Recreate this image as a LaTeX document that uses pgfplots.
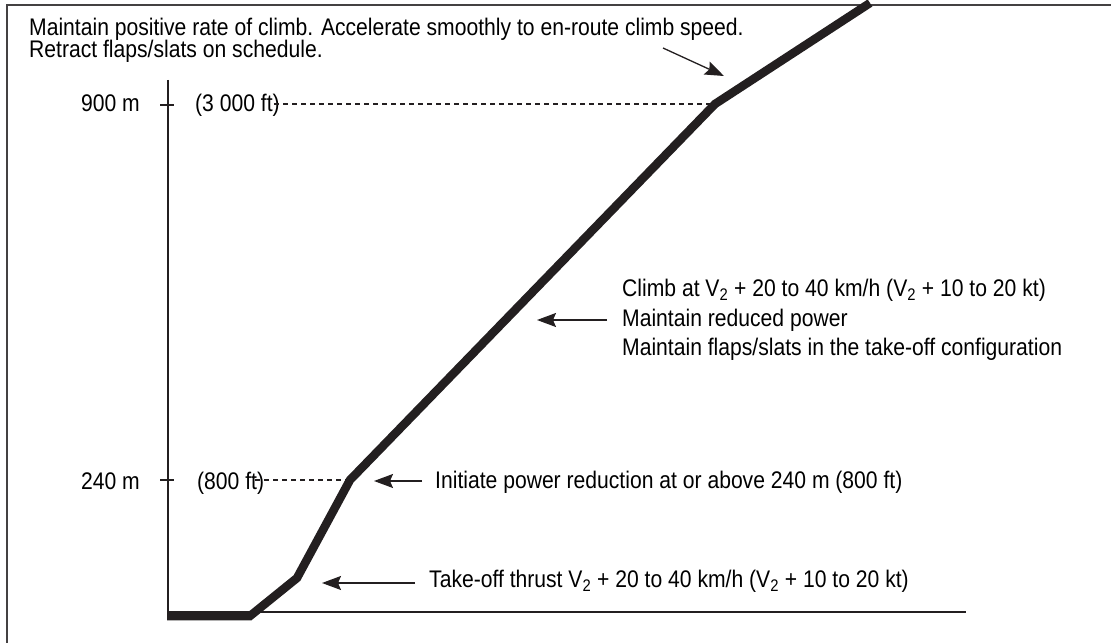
\documentclass[border=0pt]{standalone}
\usepackage{pgfplots}
\pgfplotsset{compat=1.18}
\usepackage{fontspec}
\setmainfont{Liberation Sans}[FakeStretch=0.88]
\usetikzlibrary{arrows.meta}
\definecolor{ink}{HTML}{231F20}
\begin{document}
\fontsize{24bp}{28bp}\selectfont
\begin{tikzpicture}
\begin{axis}[x=1bp,y=1bp,xmin=0,xmax=1111,ymin=0,ymax=643,
  hide axis, clip=false, at={(0,0)}, anchor=south west,
  every node/.style={font=\fontsize{24bp}{28bp}\selectfont, text=ink, inner sep=0pt}]
% frame (image is a crop)
\draw[line width=1.3bp, ink!85] (axis cs:7,0) -- (axis cs:7,638) -- (axis cs:1111,638);
% axes
\draw[line width=1.6bp, ink] (axis cs:168,563) -- (axis cs:168,31) -- (axis cs:966,31);
% ticks
\draw[line width=1.4bp, ink] (axis cs:160,538) -- (axis cs:174,538);
\draw[line width=1.4bp, ink] (axis cs:160,163) -- (axis cs:174,163);
% tick labels
\node[anchor=base east] at (axis cs:148,531) {900 m};
\node[anchor=base west] at (axis cs:187,531) {(3 000 ft)};
\node[anchor=base east] at (axis cs:148,153) {240 m};
\node[anchor=base west] at (axis cs:189,153) {(800 ft)};
% dashed guides
\draw[line width=1.2bp, ink, dash pattern=on 5bp off 4bp] (axis cs:274,539) -- (axis cs:712,539);
\draw[line width=1.2bp, ink, dash pattern=on 5bp off 4bp] (axis cs:255,163) -- (axis cs:348,163);
% flight path
\addplot[ink, line width=8.5bp, line join=miter, line cap=butt] coordinates {
 (167,27) (250,27) (297,65) (350,163) (715,539) (870,640)
};
% annotations
\node[anchor=base west] at (axis cs:21,607) {Maintain positive rate of climb. Accelerate smoothly to en-route climb speed.};
\node[anchor=base west] at (axis cs:21,585) {Retract flaps/slats on schedule.};
\draw[line width=1.3bp, ink, -{Stealth[length=19bp,width=14bp,inset=3bp]}] (axis cs:663,595) -- (axis cs:724,567);

\draw[line width=1.6bp, ink, -{Stealth[length=19bp,width=14bp,inset=3bp]}] (axis cs:422,162) -- (axis cs:374,162);
\node[anchor=base west] at (axis cs:427,154) {Initiate power reduction at or above 240 m (800 ft)};

\draw[line width=1.6bp, ink, -{Stealth[length=19bp,width=14bp,inset=3bp]}] (axis cs:415,60) -- (axis cs:322,60);
\node[anchor=base west] at (axis cs:421,55) {Take-off thrust V\textsubscript{2} + 20 to 40 km/h (V\textsubscript{2} + 10 to 20 kt)};

\draw[line width=1.6bp, ink, -{Stealth[length=19bp,width=14bp,inset=3bp]}] (axis cs:607,323) -- (axis cs:537,323);
\node[anchor=base west] at (axis cs:614,346) {Climb at V\textsubscript{2} + 20 to 40 km/h (V\textsubscript{2} + 10 to 20 kt)};
\node[anchor=base west] at (axis cs:614,316) {Maintain reduced power};
\node[anchor=base west] at (axis cs:614,287) {Maintain flaps/slats in the take-off configuration};
\end{axis}
\pgfresetboundingbox
\useasboundingbox (0,0) rectangle (1111bp,643bp);
\end{tikzpicture}
\end{document}
